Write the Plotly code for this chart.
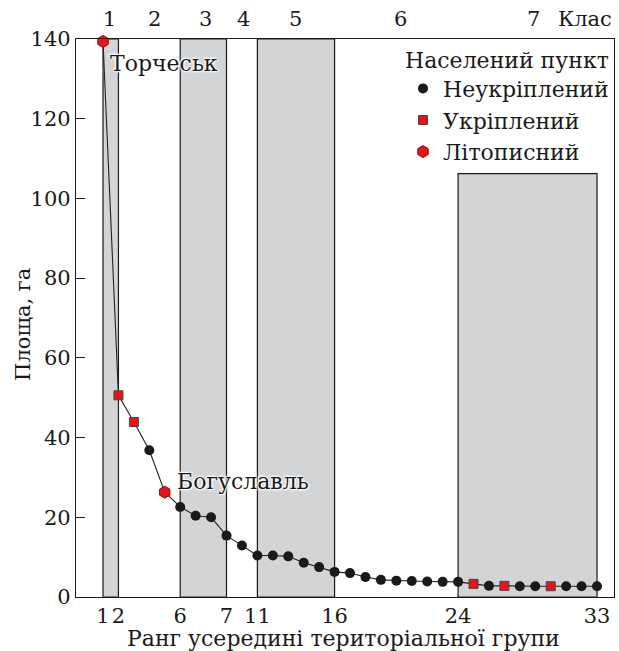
import plotly.graph_objects as go

# Data
ranks = list(range(1, 34))
area = [139.4, 50.6, 43.9, 36.8, 26.3, 22.6, 20.4, 20.0, 15.4, 12.9,
        10.4, 10.4, 10.2, 8.6, 7.5, 6.3, 6.0, 5.0, 4.3, 4.1,
        4.0, 3.9, 3.8, 3.8, 3.3, 2.8, 2.8, 2.7, 2.7, 2.7,
        2.7, 2.7, 2.7]
kind = ["L", "U", "U", "N", "L"] + ["N"] * 19 + ["U", "N", "U", "N", "N", "U", "N", "N", "N"]

tick_vals = [1, 2, 6, 9, 11, 16, 24, 33]
tick_text = ["1", "2", "6", "7", "11", "16", "24", "33"]

# class bands (shaded) : rank boundaries
shaded_bands = [(1, 2, 140), (6, 9, 140), (11, 16, 140), (24, 33, 106.2)]
class_labels = ["1", "2", "3", "4", "5", "6", "7"]
class_label_x = [1.45, 4.34, 7.67, 10.13, 13.47, 20.3, 28.9]

named = {1: "Торчеськ", 5: "Богуславль"}

FONT = "DejaVu Serif"
FS = 21
FT = 22
INK = "#1a1a1a"
fig = go.Figure()

# connecting line
fig.add_trace(go.Scatter(x=ranks, y=area, mode="lines",
                         line=dict(color="#222222", width=1.1),
                         showlegend=False, hoverinfo="skip", cliponaxis=False))

styles = {
    "N": dict(name="Неукріплений", symbol="circle", size=10, color=INK,
              line=dict(color=INK, width=0)),
    "U": dict(name="Укріплений", symbol="square", size=9, color="#e8141c",
              line=dict(color="#444444", width=1)),
    "L": dict(name="Літописний", symbol="hexagon", size=12, color="#e8141c",
              line=dict(color="#8a1010", width=1)),
}
for k in ["N", "U", "L"]:
    xs = [r for r, t in zip(ranks, kind) if t == k]
    ys = [a for a, t in zip(area, kind) if t == k]
    s = styles[k]
    fig.add_trace(go.Scatter(x=xs, y=ys, mode="markers", name=s["name"],
                             marker=dict(symbol=s["symbol"], size=s["size"],
                                         color=s["color"], line=s["line"]),
                             cliponaxis=False))

for x0, x1, top in shaded_bands:
    fig.add_shape(type="rect", x0=x0, x1=x1, y0=0, y1=top, xref="x", yref="y",
                  fillcolor="#d3d4d6", line=dict(color=INK, width=1.2),
                  layer="below")

for t, x in zip(class_labels, class_label_x):
    fig.add_annotation(x=x, y=1.035, xref="x", yref="paper", text=t,
                       showarrow=False, font=dict(family=FONT, size=FS, color=INK),
                       xanchor="center", yanchor="middle")
fig.add_annotation(x=1.0, y=1.035, xref="paper", yref="paper", text="Клас",
                   showarrow=False, font=dict(family=FONT, size=FS, color=INK),
                   xanchor="right", yanchor="middle")

# axis titles
fig.add_annotation(x=0.498, y=-0.0745, xref="paper", yref="paper",
                   text="Ранг усередині територіальної групи", showarrow=False,
                   font=dict(family=FONT, size=FT, color=INK),
                   xanchor="center", yanchor="middle")
fig.add_annotation(x=-0.10, y=0.488, xref="paper", yref="paper",
                   text="Площа, га", showarrow=False, textangle=-90,
                   font=dict(family=FONT, size=FS, color=INK),
                   xanchor="center", yanchor="middle")

halo = "0 0 2px white, 0 0 3px white, 1px 1px 2px white, -1px -1px 2px white"
fig.add_annotation(x=ranks[0], y=area[0], text=named[1], showarrow=False,
                   xanchor="left", yanchor="top", xshift=5, yshift=-8,
                   font=dict(family=FONT, size=FT, color=INK, shadow=halo))
fig.add_annotation(x=ranks[4], y=area[4], text=named[5], showarrow=False,
                   xanchor="left", yanchor="bottom", xshift=10, yshift=-4,
                   font=dict(family=FONT, size=FT, color=INK, shadow=halo))

fig.update_layout(
    width=619, height=651,
    margin=dict(l=76, r=5, t=39, b=54, autoexpand=False),
    plot_bgcolor="white", paper_bgcolor="white",
    font=dict(family=FONT, size=FS, color=INK),
    legend=dict(title=dict(text="Населений пункт", font=dict(family=FONT, size=FT)),
                x=1.0, y=1.0, xanchor="right", yanchor="top",
                bgcolor="white", borderwidth=0,
                font=dict(family=FONT, size=FT), tracegroupgap=0),
    xaxis=dict(range=[-0.75, 34.1], tickvals=tick_vals, ticktext=tick_text,
               showgrid=False, zeroline=False, showline=True, mirror=True,
               linecolor=INK, linewidth=1.2, ticks="", automargin=False,
               tickfont=dict(family=FONT, size=FS)),
    yaxis=dict(range=[0, 140], tickvals=list(range(0, 141, 20)),
               showgrid=False, zeroline=False, showline=True, mirror=True,
               linecolor=INK, linewidth=1.2, ticks="inside", ticklen=9,
               tickcolor=INK, automargin=False,
               tickfont=dict(family=FONT, size=FS)),
)

fig.write_html("out.html", config={"displayModeBar": False},
               post_script="document.body.style.margin='0';")
